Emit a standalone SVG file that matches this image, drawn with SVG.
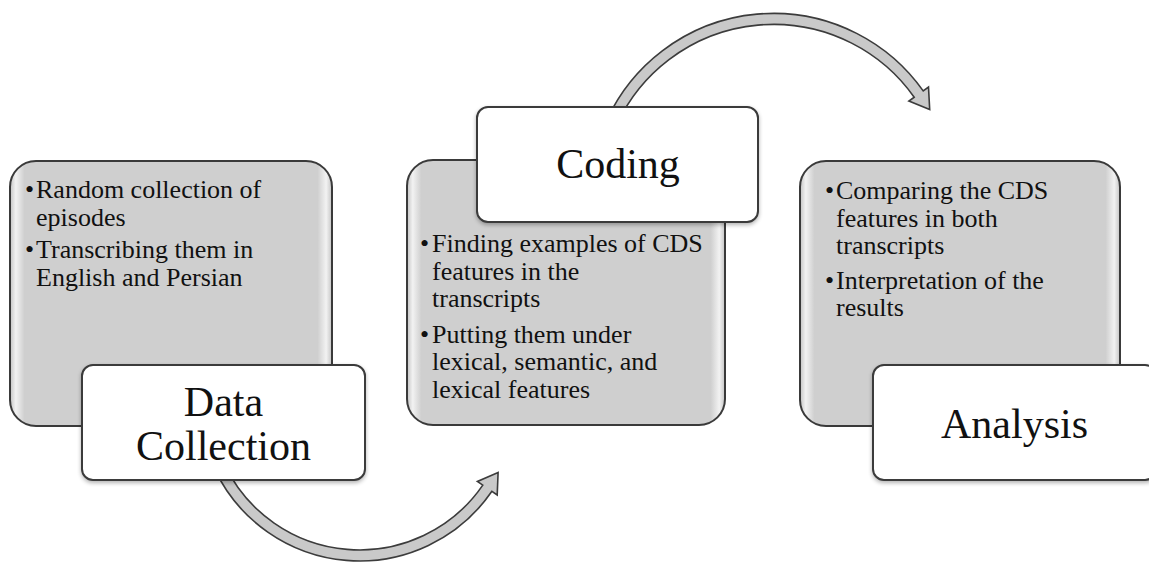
<svg xmlns="http://www.w3.org/2000/svg" width="1149" height="564" viewBox="0 0 1149 564">
<style>
.panel{fill:url(#pg);stroke:#3a3a3a;stroke-width:2}
.title{fill:#fff;stroke:#3a3a3a;stroke-width:2;filter:url(#sh)}
.arrow{fill:#c9c9c9;stroke:#3c3c3c;stroke-width:1.6;stroke-linejoin:miter}
.t{font-family:"Liberation Serif","Times New Roman",serif;font-size:26px;fill:#111}
.h{font-family:"Liberation Serif","Times New Roman",serif;font-size:42px;fill:#111;text-anchor:middle}
</style>
<defs>
<linearGradient id="pg" x1="0" y1="0" x2="1" y2="0">
<stop offset="0" stop-color="#c4c4c4"/>
<stop offset="0.018" stop-color="#f2f2f2"/>
<stop offset="0.045" stop-color="#cfcfcf"/>
<stop offset="0.955" stop-color="#cfcfcf"/>
<stop offset="0.982" stop-color="#f2f2f2"/>
<stop offset="1" stop-color="#c4c4c4"/>
</linearGradient>
<filter id="sh" x="-10%" y="-10%" width="120%" height="130%">
<feGaussianBlur in="SourceAlpha" stdDeviation="2"/>
<feOffset dy="2" result="b"/>
<feComponentTransfer><feFuncA type="linear" slope="0.3"/></feComponentTransfer>
<feMerge><feMergeNode/><feMergeNode in="SourceGraphic"/></feMerge>
</filter>
</defs>
<rect width="1149" height="564" fill="#fff"/>
<g id="connectors">
<path class="arrow" d="M214.1,468.2 A160.5,160.5 0 0,0 491.9,491.3 L497.2,495 L498.1,472.5 L477.4,481.4 L482.8,485.1 A149.5,149.5 0 0,1 224.1,463.6 Z"/>
<path class="arrow" d="M607.1,119.4 A183.5,183.5 0 0,1 923.2,90.9 L928.5,87.1 L929.7,109.5 L908.9,101 L914.2,97.2 A172.5,172.5 0 0,0 617.1,124 Z"/>
</g>
<g id="node-data-collection">
<rect class="panel" x="10" y="161" width="322" height="265" rx="26"/>
<text class="t" x="25" y="198">•</text>
<text class="t" x="36" y="198">Random collection of</text>
<text class="t" x="36" y="226">episodes</text>
<text class="t" x="25" y="258">•</text>
<text class="t" x="36" y="258">Transcribing them in</text>
<text class="t" x="36" y="286">English and Persian</text>
<rect class="title" x="82" y="365" width="283" height="115" rx="11"/>
<text class="h" x="223.5" y="416">Data</text>
<text class="h" x="223.5" y="460">Collection</text>
</g>
<g id="node-coding">
<rect class="panel" x="407" y="160" width="318" height="265" rx="26"/>
<text class="t" x="420" y="252">•</text>
<text class="t" x="432" y="252">Finding examples of CDS</text>
<text class="t" x="432" y="280">features in the</text>
<text class="t" x="432" y="307">transcripts</text>
<text class="t" x="420" y="343">•</text>
<text class="t" x="432" y="343">Putting them under</text>
<text class="t" x="432" y="370">lexical, semantic, and</text>
<text class="t" x="432" y="398">lexical features</text>
<rect class="title" x="477" y="107" width="281" height="115" rx="11"/>
<text class="h" x="618" y="178">Coding</text>
</g>
<g id="node-analysis">
<rect class="panel" x="800" y="161" width="320" height="265" rx="26"/>
<text class="t" x="825" y="199">•</text>
<text class="t" x="836" y="199">Comparing the CDS</text>
<text class="t" x="836" y="227">features in both</text>
<text class="t" x="836" y="254">transcripts</text>
<text class="t" x="825" y="289">•</text>
<text class="t" x="836" y="289">Interpretation of the</text>
<text class="t" x="836" y="316">results</text>
<rect class="title" x="873" y="365" width="283" height="115" rx="11"/>
<text class="h" x="1014.5" y="438">Analysis</text>
</g>
</svg>
